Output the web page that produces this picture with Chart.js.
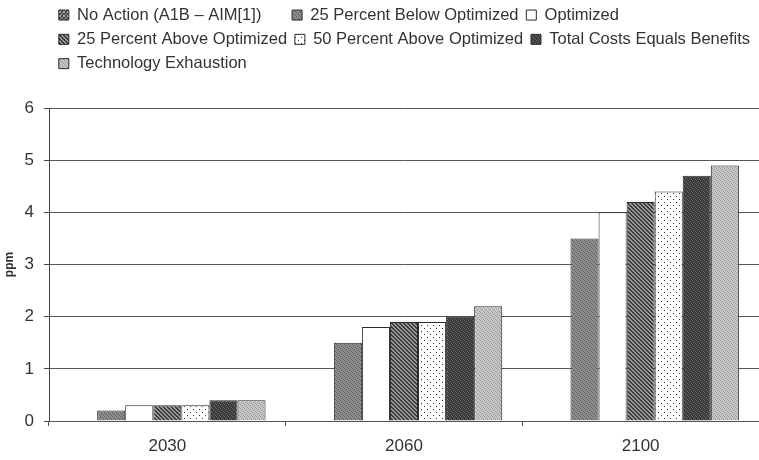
<!DOCTYPE html>
<html>
<head>
<meta charset="utf-8">
<script src="https://cdn.jsdelivr.net/npm/chart.js@4.4.0/dist/chart.umd.min.js"></script>
<style>
  html, body { margin: 0; padding: 0; background: #fff; }
  #wrap { width: 759px; height: 460px; }
</style>
</head>
<body>
<div id="wrap"><canvas id="chart" width="759" height="460"></canvas></div>
<script>
var years = ["2030", "2060", "2100"];
var seriesNames = [
  "No Action (A1B \u2013 AIM[1])",
  "25 Percent Below Optimized",
  "Optimized",
  "25 Percent Above Optimized",
  "50 Percent Above Optimized",
  "Total Costs Equals Benefits",
  "Technology Exhaustion"
];
var noAction    = [0, 0, 0];
var below25     = [0.2, 1.5, 3.5];
var optimized   = [0.3, 1.8, 4.0];
var above25     = [0.3, 1.9, 4.2];
var above50     = [0.3, 1.9, 4.4];
var costsBenef  = [0.4, 2.0, 4.7];
var techExhaust = [0.4, 2.2, 4.9];
var yTicks = [0, 1, 2, 3, 4, 5, 6];

// small tiled fills, like the grey-scale print patterns
function tile(size, draw){
  var c = document.createElement("canvas");
  c.width = size; c.height = size;
  var g = c.getContext("2d");
  draw(g, size);
  return document.getElementById("chart").getContext("2d").createPattern(c, "repeat");
}
function speckle(base, dot, step){
  return tile(4, function(g, s){
    g.fillStyle = base; g.fillRect(0, 0, s, s);
    g.fillStyle = dot;
    g.fillRect(0, 0, 1, 1); g.fillRect(2, 1, 1, 1);
    g.fillRect(1, 2, 1, 1); g.fillRect(3, 3, 1, 1);
    if (step) { g.fillRect(3, 0, 1, 1); g.fillRect(0, 3, 1, 1); }
  });
}
var fills = [
  speckle("#4a4a4a", "#a8a8a8", true),
  speckle("#8e8e8e", "#5e5e5e", false),
  "#ffffff",
  tile(4, function(g, s){
    g.fillStyle = "#9a9a9a"; g.fillRect(0, 0, s, s);
    g.fillStyle = "#3a3a3a";
    for (var i = 0; i < s; i++) { g.fillRect(i, i, 1, 1); g.fillRect((i + 1) % s, i, 1, 1); }
  }),
  tile(6, function(g, s){
    g.fillStyle = "#ffffff"; g.fillRect(0, 0, s, s);
    g.fillStyle = "#333333";
    g.fillRect(1, 1, 1, 1); g.fillRect(4, 4, 1, 1);
  }),
  speckle("#383838", "#6e6e6e", false),
  speckle("#c8c8c8", "#959595", false)
];
var allData = [noAction, below25, optimized, above25, above50, costsBenef, techExhaust];

var datasets = seriesNames.map(function(n, i){
  return {
    label: n,
    data: allData[i],
    backgroundColor: fills[i],
    borderColor: "#2a2a2a",
    borderWidth: 1,
    borderSkipped: "bottom",
    categoryPercentage: 0.83,
    barPercentage: 1.0
  };
});

var font = "'Liberation Sans', Arial, sans-serif";

// legend sits a bit right of the canvas edge and leaves room above the plot
var legendTweak = {
  id: "legendTweak",
  beforeLayout: function(chart){
    var lg = chart.legend;
    if (lg && !lg._tweaked) {
      var orig = lg.fit;
      lg.fit = function(){ this.maxWidth = 712; orig.call(this); this.height = 108; };
      lg._tweaked = true;
    }
  },
  afterLayout: function(chart){
    var lg = chart.legend;
    lg.left += 51; lg.right = 800; lg.top -= 1;
  }
};

new Chart(document.getElementById("chart").getContext("2d"), {
  type: "bar",
  data: { labels: years, datasets: datasets },
  plugins: [legendTweak],
  options: {
    responsive: false,
    animation: false,
    plugins: {
      legend: {
        position: "top",
        align: "start",
        labels: {
          boxWidth: 10,
          boxHeight: 10,
          padding: 7.8,
          color: "#333",
          font: { family: font, size: 16.5 },
          generateLabels: function(chart){
            var items = Chart.defaults.plugins.legend.labels.generateLabels(chart);
            items[0].text += "     ";
            return items;
          }
        }
      },
      tooltip: { enabled: false }
    },
    scales: {
      x: {
        offset: true,
        grid: { drawOnChartArea: false, drawTicks: true, tickLength: 5, color: "#555", offset: true },
        border: { color: "#555" },
        ticks: { color: "#333", padding: 10, font: { family: font, size: 17 } },
        afterFit: function(s){ s.height = 39; }
      },
      y: {
        min: 0,
        max: 6,
        afterBuildTicks: function(s){ s.ticks = yTicks.map(function(v){ return { value: v }; }); },
        grid: { color: "#555", lineWidth: 1, drawTicks: true, tickLength: 5, tickColor: "#444" },
        border: { color: "#444" },
        ticks: { color: "#333", padding: 10, font: { family: font, size: 17 } },
        title: {
          display: true,
          text: "ppm",
          color: "#333",
          padding: { top: 2, bottom: 0 },
          font: { family: font, size: 12, weight: "bold" }
        },
        afterFit: function(s){ s.width = 49; }
      }
    }
  }
});
</script>
</body>
</html>
